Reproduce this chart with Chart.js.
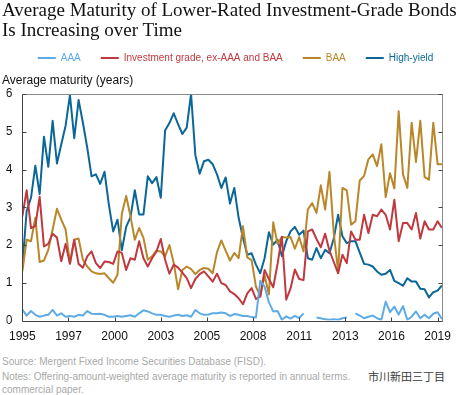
<!DOCTYPE html>
<html>
<head>
<meta charset="utf-8">
<script src="https://cdn.jsdelivr.net/npm/chart.js@4.4.1/dist/chart.umd.min.js"></script>
<style>
  html, body { margin: 0; padding: 0; background: #fff; }
  body { width: 460px; height: 395px; position: relative; overflow: hidden; font-family: "Liberation Sans", Arial, sans-serif; }
  #wrap { position: absolute; left: 0; top: 0; width: 460px; height: 350px; }
  .title { position: absolute; left: 2px; top: 0; font: 19px/20px "Liberation Serif", serif; color: #111; white-space: nowrap; }
  .note { position: absolute; left: 2px; font-size: 10px; color: #a9a9a9; white-space: nowrap; }
  .mark { position: absolute; left: 368px; top: 368px; font: 11px "Noto Sans CJK SC"; color: #3a3a3a; text-shadow: 0 0 2px #fff, 0 0 2px #fff; }
</style>
</head>
<body>
<div id="wrap"><canvas id="chart"></canvas></div>
<div class="title">Average Maturity of Lower-Rated Investment-Grade Bonds<br>Is Increasing over Time</div>
<div class="note" style="top:356px">Source: Mergent Fixed Income Securities Database (FISD).</div>
<div class="note" style="top:371px">Notes: Offering-amount-weighted average maturity is reported in annual terms.</div>
<div class="note" style="top:384px">commercial paper.</div>
<div class="mark">市川新田三丁目</div>
<script>
// quarterly observations, 1995Q1 .. 2019Q2
const startYear = 1995;

const aaa = [
  0.29, 0.13, 0.25, 0.15, 0.10, 0.13, 0.15, 0.28, 0.13, 0.19,
  0.10, 0.12, 0.10, 0.15, 0.13, 0.25, 0.18, 0.17, 0.18, 0.15,
  0.10, 0.10, 0.12, 0.10, 0.12, 0.14, 0.10, 0.19, 0.27, 0.24,
  0.19, 0.15, 0.15, 0.12, 0.10, 0.13, 0.15, 0.12, 0.14, 0.10,
  0.28, 0.19, 0.15, 0.16, 0.19, 0.19, 0.21, 0.19, 0.12, 0.17,
  0.15, 0.12, 0.12, 0.09, 0.08, 1.05, 0.90, 0.48, 0.24, 0.25,
  0.02, 0.11, 0.05, 0.12, 0.06, 0.19, null, null, 0.08, 0.06,
  0.03, 0.02, 0.03, 0.02, 0.06, 0.08, null, 0.19, 0.13, 0.06,
  0.10, 0.13, 0.06, 0.02, 0.50, 0.22, 0.37, 0.16, 0.38, 0.02,
  0.10, 0.24, 0.06, 0.15, 0.06, 0.18, 0.22, 0.04
];

const invGrade = [
  2.76, 3.45, 2.45, 2.50, 3.28, 1.96, 2.03, 2.30, 2.20, 1.57,
  2.03, 1.50, 2.14, 1.50, 1.40, 1.70, 1.83, 1.52, 1.39, 1.56,
  1.55, 1.50, 1.83, 1.79, 1.34, 1.65, 1.61, 2.10, 1.65, 1.43,
  1.65, 1.83, 2.16, 1.61, 1.24, 1.48, 1.40, 1.27, 1.12, 0.86,
  1.10, 1.23, 1.30, 1.17, 1.03, 1.24, 0.99, 0.94, 0.77, 0.70,
  0.59, 0.43, 0.72, 0.86, 0.57, 0.63, 1.34, 1.10, 0.88, 1.50,
  2.22, 0.55, 0.85, 1.35, 1.10, 1.07, 2.36, 2.41, 2.16, 1.94,
  2.30, 1.85, 1.55, 1.25, 1.74, 1.52, 2.36, 2.14, 2.14, 2.80,
  2.32, 2.80, 2.76, 2.94, 2.80, 2.41, 3.20, 2.10, 2.58, 2.58,
  2.41, 2.85, 2.17, 2.63, 2.41, 2.41, 2.63, 2.45
];

const baa = [
  1.30, 2.14, 2.10, 2.72, 1.55, 1.59, 1.87, 2.41, 2.96, 2.67,
  2.41, 1.52, 2.14, 2.17, 1.61, 1.43, 1.30, 1.25, 1.23, 1.25,
  1.12, 1.00, 1.21, 2.83, 3.30, 2.76, 2.14, 2.45, 2.19, 1.61,
  1.70, 1.85, 1.83, 1.70, 2.00, 1.52, 0.83, 1.34, 1.43, 1.36,
  1.23, 1.34, 1.39, 1.37, 1.25, 1.81, 2.12, 1.85, 1.59, 1.79,
  1.65, 2.50, 1.67, 1.60, 0.90, 0.65, 1.20, 0.69, 2.60, 2.03,
  2.21, 2.20, 2.21, 1.90, 2.21, 1.83, 2.94, 3.11, 2.85, 3.58,
  2.94, 3.94, 2.30, 1.30, 3.51, 3.45, 2.54, 2.63, 3.71, 3.83,
  4.27, 4.40, 4.09, 4.67, 3.27, 3.90, 3.50, 5.54, 3.87, 3.51,
  5.24, 4.20, 5.29, 3.80, 3.73, 5.24, 4.14, 4.14
];

const highYield = [
  1.45, 2.90, 3.25, 4.10, 3.35, 4.87, 4.07, 5.29, 4.16, 4.67,
  5.16, 5.97, 4.83, 5.84, 5.24, 4.58, 3.82, 3.87, 3.62, 3.94,
  3.07, 2.36, 2.67, 1.86, 2.48, 2.74, 3.45, 2.81, 2.81, 3.82,
  3.64, 3.80, 3.25, 5.03, 5.23, 5.49, 5.20, 4.94, 5.11, 6.00,
  4.38, 3.89, 4.22, 4.26, 4.14, 3.87, 3.51, 3.79, 3.10, 3.51,
  2.72, 2.19, 1.74, 1.78, 1.48, 1.25, 1.65, 2.34, 2.01, 2.14,
  1.70, 2.10, 2.36, 2.48, 2.27, 2.38, 1.65, 1.61, 1.92, 1.65,
  1.87, 1.78, 2.18, 2.80, 2.23, 2.05, 2.10, 2.10, 1.80, 1.50,
  1.48, 1.43, 1.30, 1.21, 1.24, 1.34, 1.05, 0.99, 0.92, 1.12,
  1.03, 1.03, 0.84, 0.83, 0.61, 0.75, 0.79, 0.93
];

const tickValues = [1995, 1997.667, 2000.333, 2003, 2005.667, 2008.333, 2011, 2013.667, 2016.333, 2019];
const tickLabels = ["1995", "1997", "2000", "2003", "2005", "2008", "2011", "2013", "2016", "2019"];

function toPoints(values) {
  return values.map((v, i) => ({ x: startYear + i / 4, y: v }));
}

// legend sits a little right of centre in the original
const legendShift = {
  id: "legendShift",
  afterLayout(chart) {
    chart.legend.left += 9;
    chart.legend.right += 9;
  }
};

const framePlugin = {
  id: "frame",
  afterDatasetsDraw(chart) {
    const { ctx, chartArea: a, scales: { x, y } } = chart;
    const l = Math.round(a.left) + 0.5;
    const r = Math.round(a.right) + 0.5;
    const t = Math.round(a.top) + 0.5;
    const b = Math.round(a.bottom) + 0.5;
    ctx.save();
    ctx.lineWidth = 1;
    ctx.strokeStyle = "#8a8a8a";
    ctx.beginPath();
    ctx.moveTo(l, t); ctx.lineTo(r, t);
    ctx.moveTo(r, t); ctx.lineTo(r, b);
    ctx.stroke();
    ctx.strokeStyle = "#444";
    ctx.beginPath();
    ctx.moveTo(l, t); ctx.lineTo(l, b); ctx.lineTo(r, b);
    y.ticks.forEach((tk) => {
      const py = Math.round(y.getPixelForValue(tk.value)) + 0.5;
      ctx.moveTo(l, py); ctx.lineTo(l + 4, py);
      ctx.moveTo(r, py); ctx.lineTo(r - 4, py);
    });
    x.ticks.forEach((tk) => {
      const px = Math.round(x.getPixelForValue(tk.value)) + 0.5;
      ctx.moveTo(px, b); ctx.lineTo(px, b - 4);
    });
    ctx.stroke();
    ctx.restore();
  }
};

new Chart(document.getElementById("chart"), {
  type: "line",
  data: {
    datasets: [
      { label: "AAA", data: toPoints(aaa), borderColor: "#5eabe6" },
      { label: "Investment grade, ex-AAA and BAA", data: toPoints(invGrade), borderColor: "#c0393f" },
      { label: "BAA", data: toPoints(baa), borderColor: "#b98729" },
      { label: "High-yield", data: toPoints(highYield), borderColor: "#0b6798" }
    ]
  },
  options: {
    responsive: true,
    maintainAspectRatio: false,
    animation: false,
    layout: { padding: { left: 2, right: 9, top: 33, bottom: 1.5 } },
    elements: {
      point: { radius: 0 },
      line: { borderWidth: 2, tension: 0, borderJoinStyle: "round" }
    },
    plugins: {
      legend: {
        position: "top",
        labels: {
          boxWidth: 18,
          boxHeight: 2,
          padding: 20,
          font: { family: "Liberation Sans", size: 10 },
          generateLabels(chart) {
            return chart.data.datasets.map((ds, i) => ({
              text: ds.label,
              fillStyle: ds.borderColor,
              strokeStyle: ds.borderColor,
              fontColor: ds.borderColor,
              lineWidth: 0,
              hidden: false,
              datasetIndex: i
            }));
          }
        }
      },
      subtitle: {
        display: true,
        text: "Average maturity (years)",
        align: "start",
        position: "top",
        weight: 500,
        color: "#111",
        font: { family: "Liberation Sans", size: 12, weight: "normal" },
        padding: { top: 0.8, bottom: 5.8 }
      },
      tooltip: { enabled: false }
    },
    scales: {
      x: {
        type: "linear",
        min: 1995,
        max: 2019.25,
        grid: { display: false, drawTicks: false },
        border: { display: false },
        afterBuildTicks(scale) {
          scale.ticks = tickValues.map((v) => ({ value: v }));
        },
        afterFit(scale) { scale.height = 28; },
        ticks: {
          padding: 9,
          color: "#111",
          font: { family: "Liberation Sans", size: 12 },
          maxRotation: 0,
          autoSkip: false,
          callback: (v, i) => tickLabels[i]
        }
      },
      y: {
        min: 0,
        max: 6,
        grid: { display: false, drawTicks: false },
        border: { display: false },
        afterFit(scale) { scale.width = 16; },
        ticks: {
          stepSize: 1,
          padding: 10,
          color: "#111",
          font: { family: "Liberation Sans", size: 12 }
        }
      }
    }
  },
  plugins: [legendShift, framePlugin]
});
</script>
</body>
</html>
